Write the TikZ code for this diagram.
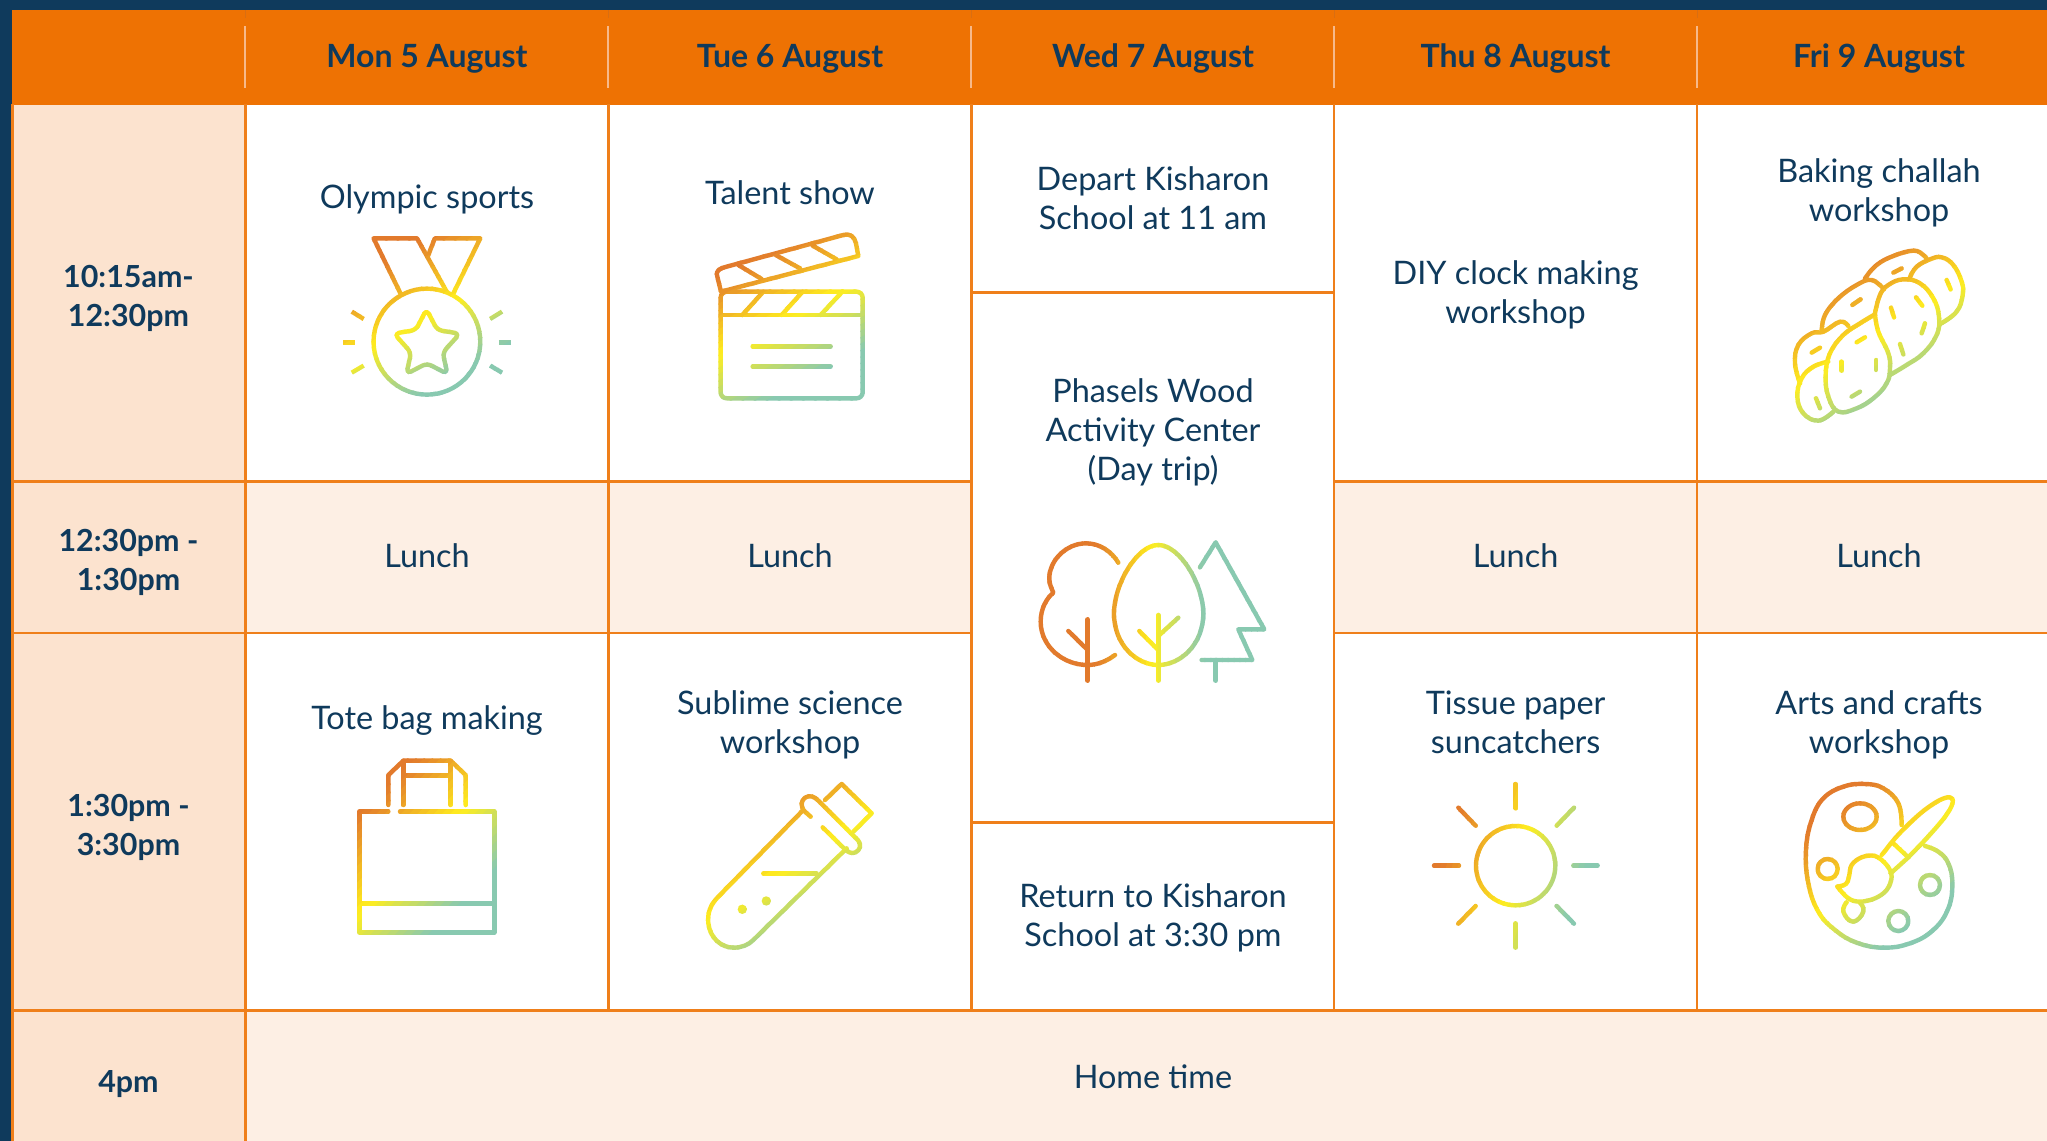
\documentclass[tikz,border=0pt]{standalone}
\usepackage{fontspec}
\setmainfont{Lato}
\definecolor{navy}{HTML}{0F3A5C}
\definecolor{hdr}{HTML}{EE7203}
\definecolor{hdrdark}{HTML}{D96E12}
\definecolor{gridc}{HTML}{EF7F1A}
\definecolor{timec}{HTML}{FCE3CF}
\definecolor{lunchc}{HTML}{FDEFE4}
\definecolor{hline}{HTML}{F7B98A}
\definecolor{ico}{HTML}{E27A2C}
\definecolor{icy}{HTML}{FFEE1E}
\definecolor{ict}{HTML}{88C9B0}
\colorlet{bandc}{ico}
\tikzset{
  iconline/.style={draw=bandc,line width=2.2pt,line cap=round,line join=round},
  iconfill/.style={fill=bandc,draw=none},
  celltext/.style={text=navy,align=center,inner sep=0pt,font=\fontsize{16.2}{19.5}\selectfont},
  headtext/.style={text=navy,align=center,inner sep=0pt,font=\fontsize{16}{19.5}\selectfont\bfseries},
  timetext/.style={text=navy,align=center,inner sep=0pt,font=\fontsize{15.2}{19.5}\selectfont\bfseries},
  gridline/.style={draw=gridc,line width=1.25pt},
  hdrline/.style={draw=hline,line width=1pt},
  hdrtick/.style={draw=hdrdark,line width=.4pt}
}
\newcommand\gradicon[8]{%
  \pgfmathsetmacro\gcx{(#2+#4)/2}%
  \pgfmathsetmacro\gcy{(#3+#5)/2}%
  \pgfmathsetmacro\gca{cos(#6)}%
  \pgfmathsetmacro\gsa{sin(#6)}%
  \pgfmathsetmacro\gL{(#4-#2)*abs(\gca)+(#5-#3)*abs(\gsa)}%
  \pgfmathsetmacro\gM{(#4-#2)+(#5-#3)}%
  \foreach \gk in {1,...,40}{%
    \pgfmathsetmacro\gta{-\gL/2+\gL*(\gk-1)/40-0.5}%
    \pgfmathsetmacro\gtb{-\gL/2+\gL*\gk/40+0.5}%
    \pgfmathsetmacro\gf{(\gk-0.5)/40}%
    \pgfmathsetmacro\gp{100*max(0,min(1,\gf<0.5 ? (\gf-#7)/(0.5-#7) : (\gf-0.5)/(#8-0.5)))}%
    \ifdim\gf pt<0.5pt \colorlet{bandc}{icy!\gp!ico}\else \colorlet{bandc}{ict!\gp!icy}\fi
    \begin{scope}
      \clip ({\gcx+\gta*\gca-\gM*\gsa},{\gcy+\gta*\gsa+\gM*\gca}) --
            ({\gcx+\gtb*\gca-\gM*\gsa},{\gcy+\gtb*\gsa+\gM*\gca}) --
            ({\gcx+\gtb*\gca+\gM*\gsa},{\gcy+\gtb*\gsa-\gM*\gca}) --
            ({\gcx+\gta*\gca+\gM*\gsa},{\gcy+\gta*\gsa-\gM*\gca}) -- cycle;
      #1
    \end{scope}
  }%
}
\newcommand\medalicon{%
\begin{scope}[xscale=.3953,yscale=.3333,iconline]
\draw (1015,885) -- (945,715) -- (1055,715) -- (1130,875);
\draw (1082,770) -- (1100,715) -- (1215,715) -- (1145,885);
\draw (1080,1025) ellipse [x radius=135,y radius=159];
\draw[rounded corners=2.5pt] (1079,928) -- (1106,990) -- (1163,1001) -- (1120,1058) -- (1132,1122) -- (1080,1090) -- (1028,1122) -- (1040,1058) -- (997,1001) -- (1052,990) -- cycle;
\draw[line cap=butt] (868,1027) -- (898,1027);
\draw[line cap=butt] (890,935) -- (920,957);
\draw[line cap=butt] (890,1118) -- (920,1097);
\draw[line cap=butt] (1262,1027) -- (1293,1027);
\draw[line cap=butt] (1240,957) -- (1270,935);
\draw[line cap=butt] (1240,1097) -- (1270,1118);
\end{scope}}
\newcommand\clapicon{%
\begin{scope}[shift={(610,180)},scale=.3333,iconline]
\draw[rounded corners=3pt] (332,335) rectangle (758,655);
\draw (332,405) -- (758,405);
\draw (460,335) -- (397,405);
\draw (578,335) -- (515,405);
\draw (697,335) -- (632,405);
\draw (428,500) -- (662,500);
\draw (428,560) -- (662,560);
\draw (333,335) -- (322,290) .. controls (316,270) and (330,265) .. (350,260) -- (700,165) .. controls (722,160) and (733,170) .. (738,190) -- (745,228) -- cycle;
\draw (385,255) -- (455,297);
\draw (497,225) -- (570,265);
\draw (608,197) -- (680,238);
\end{scope}}
\newcommand\treesicon{%
\begin{scope}[shift={(1000,510)},scale=.3333,iconline]
\draw (355,158) .. controls (335,125) and (300,100) .. (258,100) .. controls (200,100) and (148,150) .. (148,205) .. controls (148,225) and (155,235) .. (160,248) .. controls (140,265) and (122,295) .. (122,335) .. controls (122,410) and (190,465) .. (262,465) .. controls (295,465) and (322,452) .. (345,435);
\draw (263,328) -- (263,512);
\draw (205,363) -- (263,420);
\draw (475,105) .. controls (540,105) and (610,225) .. (610,310) .. controls (610,405) and (540,465) .. (475,465) .. controls (410,465) and (342,405) .. (342,310) .. controls (342,225) and (410,105) .. (475,105) -- cycle;
\draw (475,315) -- (475,512);
\draw (418,363) -- (475,420);
\draw (535,323) -- (475,378);
\draw (600,172) -- (647,97) -- (793,358) -- (715,358) -- (757,450) -- (605,450);
\draw (647,450) -- (647,512);
\end{scope}}
\newcommand\chalicon{%
\begin{scope}[shift={(1760,220)},scale=.3333,iconline]
\draw plot[smooth,tension=.7] coordinates {(185,335) (195,285) (235,235) (290,195) (335,180) (372,208)};
\draw plot[smooth,tension=.7] coordinates {(315,175) (350,135) (400,108) (460,92) (490,105) (502,120)};
\draw plot[smooth,tension=.7] coordinates {(450,172) (470,140) (510,118) (545,112) (580,135) (605,185) (608,225) (590,275) (540,312)};
\draw plot[smooth,tension=.7] coordinates {(345,280) (360,225) (385,195) (430,178) (480,190) (520,235) (537,290) (530,345) (490,400) (440,435) (390,465)};
\draw plot[smooth,tension=.7] coordinates {(345,283) (300,310) (250,345) (210,400) (197,465) (205,530) (235,575) (290,565) (340,535) (380,490) (390,445) (385,400) (355,335) (345,283)};
\draw plot[smooth,tension=.7] coordinates {(120,490) (105,430) (115,375) (155,340) (190,335) (240,305) (265,318)};
\draw plot[smooth,tension=.7] coordinates {(205,425) (160,440) (125,475) (112,530) (130,580) (175,602) (220,575)};
\foreach \a/\b/\c/\d in {400/158/425/145,277/255/302/238,155/398/180/383,290/367/315/352,245/425/245/452,348/420/348/450,275/530/300/515,168/535/180/565,393/263/402/292,468/232/487/257,495/310/485/340,420/372/430/403,560/180/572/208}
  \draw (\a,\b) -- (\c,\d);
\end{scope}}
\newcommand\bagicon{%
\begin{scope}[shift={(330,740)},scale=.3333,iconline]
\draw (175,215) -- (88,215) -- (88,577) -- (493,577) -- (493,215) -- (210,215);
\draw (88,490) -- (493,490);
\draw (175,195) -- (175,105) -- (220,62) -- (362,62) -- (407,105) -- (407,195);
\draw (220,195) -- (220,62);
\draw (362,195) -- (362,62);
\draw (220,107) -- (362,107);
\end{scope}}
\newcommand\tubeicon{%
\begin{scope}[shift={(690,770)},scale=.3333,iconline]
\draw (335,125) -- (85,380) .. controls (60,405) and (52,430) .. (55,460) .. controls (60,505) and (95,533) .. (130,533) .. controls (155,533) and (175,525) .. (190,510) -- (470,235);
\draw (362,140) -- (345,125) .. controls (330,110) and (333,92) .. (345,83) .. controls (358,74) and (375,80) .. (385,92) -- (505,212) .. controls (515,225) and (510,240) .. (497,247) .. controls (485,253) and (472,245) .. (465,238) -- (398,172);
\draw (405,90) -- (455,42) -- (545,130) -- (490,185);
\draw (220,310) -- (380,310);
\fill[iconfill] (157,418) circle (14);
\fill[iconfill] (229,393) circle (14);
\end{scope}}
\newcommand\sunicon{%
\begin{scope}[shift={(1410,770)},scale=.3333,iconline]
\draw (317,287) circle (119);
\draw (317,42) -- (317,115);
\draw (317,460) -- (317,533);
\draw (72,287) -- (147,287);
\draw (490,287) -- (563,287);
\draw (145,113) -- (197,167);
\draw (492,113) -- (440,167);
\draw (145,461) -- (197,408);
\draw (492,461) -- (440,408);
\end{scope}}
\newcommand\palicon{%
\begin{scope}[shift={(1780,770)},scale=.3333,iconline]
\draw plot[smooth,tension=.7] coordinates {(365,165) (355,100) (310,55) (255,42) (190,50) (130,85) (95,150) (78,240) (85,340) (115,425) (165,480) (230,518) (310,533) (390,520) (460,480) (505,415) (517,340) (505,280) (475,245) (435,228)};
\draw (305,255) -- (345,205) .. controls (390,155) and (440,110) .. (480,90) .. controls (505,78) and (522,78) .. (518,98) .. controls (512,125) and (480,160) .. (440,205) -- (385,262) -- (332,310);
\draw (340,220) -- (385,262);
\draw plot[smooth,tension=.6] coordinates {(172,350) (198,342) (207,320) (215,285) (245,262) (285,258) (320,285) (335,320) (320,360) (285,385) (240,395) (205,385) (172,350)};
\draw (240,140) ellipse [x radius=50,y radius=40];
\draw (143,297) circle (30);
\draw (450,345) circle (30);
\draw (355,453) circle (30);
\draw plot[smooth,tension=.8] coordinates {(200,397) (190,425) (219,455) (250,425) (240,398)};
\end{scope}}
\begin{document}
\begin{tikzpicture}[x=.5pt,y=-.5pt]
\useasboundingbox (0,0) rectangle (2047,1141);
% background
\fill[navy] (0,0) rectangle (2047,1141);
\fill[white] (11.5,104) rectangle (2047,1141);
\fill[hdr] (11.5,10) rectangle (2047,105);
% tinted cells
\fill[timec] (13,105) rectangle (245.4,1141);
\fill[lunchc] (245.4,481.7) rectangle (971.3,633);
\fill[lunchc] (1334.2,481.7) rectangle (2047,633);
\fill[lunchc] (245.4,1010.5) rectangle (2047,1141);
% header separators
\foreach \x in {245.4,608.4,971.3,1334.2,1697.2} {\draw[hdrline] (\x,26) -- (\x,88); \draw[hdrtick] (\x,10) -- (\x,18);}
% grid
\foreach \x in {245.4,608.4,971.3,1334.2,1697.2} \draw[gridline] (\x,104) -- (\x,1010.5);
\draw[gridline] (245.4,1010.5) -- (245.4,1141);
\draw[gridline] (12.3,104) -- (12.3,1141);
\draw[gridline] (13,481.7) -- (971.3,481.7);
\draw[gridline] (13,633) -- (971.3,633);
\draw[gridline] (1334.2,481.7) -- (2047,481.7);
\draw[gridline] (1334.2,633) -- (2047,633);
\draw[gridline] (971.3,292.5) -- (1334.2,292.5);
\draw[gridline] (971.3,822.5) -- (1334.2,822.5);
\draw[gridline] (13,1010.5) -- (2047,1010.5);
% header text
\node[headtext] (h1) at (427,60) {\strut Mon 5 August};
\node[headtext] (h2) at (790,60) {\strut Tue 6 August};
\node[headtext] (h3) at (1153,60) {\strut Wed 7 August};
\node[headtext] (h4) at (1515.6,60) {\strut Thu 8 August};
\node[headtext] (h5) at (1879,60) {\strut Fri 9 August};
% times
\node[timetext] (t1) at (128.5,299) {\strut 10:15am-\\\strut 12:30pm};
\node[timetext] (t2) at (128.5,563.4) {\strut 12:30pm -\\\strut 1:30pm};
\node[timetext] (t3) at (128.5,828) {\strut 1:30pm -\\\strut 3:30pm};
\node[timetext] (t4) at (128.5,1085) {\strut 4pm};
% cells
\node[celltext] (c1) at (427,201) {\strut Olympic sports};
\node[celltext] (c2) at (790,197) {\strut Talent show};
\node[celltext] (c3) at (1153,202) {\strut Depart Kisharon\\\strut School at 11 am};
\node[celltext] (c4) at (1515.6,296) {\strut DIY clock making\\\strut workshop};
\node[celltext] (c5) at (1879,194.6) {\strut Baking challah\\\strut workshop};
\node[celltext] (c6) at (1153,434) {\strut Phasels Wood\\\strut Activity Center\\\strut (Day trip)};
\node[celltext] (l1) at (427,560) {\strut Lunch};
\node[celltext] (l2) at (790,560) {\strut Lunch};
\node[celltext] (l4) at (1515.6,560) {\strut Lunch};
\node[celltext] (l5) at (1879,560) {\strut Lunch};
\node[celltext] (d1) at (427,722) {\strut Tote bag making};
\node[celltext] (d2) at (790,726) {\strut Sublime science\\\strut workshop};
\node[celltext] (d3) at (1153,919) {\strut Return to Kisharon\\\strut School at 3:30 pm};
\node[celltext] (d4) at (1515.6,726) {\strut Tissue paper\\\strut suncatchers};
\node[celltext] (d5) at (1879,726) {\strut Arts and crafts\\\strut workshop};
\node[celltext] (home) at (1153,1081) {\strut Home time};
% icons
\gradicon{\medalicon}{340}{234}{514}{399}{60}{0.2}{0.78}
\gradicon{\clapicon}{713}{230}{869}{404}{62}{0.2}{0.78}
\gradicon{\treesicon}{1036}{538}{1269}{686}{0}{0.26}{0.72}
\gradicon{\chalicon}{1790}{247}{1967}{425}{58}{0.2}{0.78}
\gradicon{\bagicon}{354}{755}{499}{938}{45}{0.2}{0.78}
\gradicon{\tubeicon}{704}{780}{876}{952}{57}{0.2}{0.78}
\gradicon{\sunicon}{1429}{779}{1603}{953}{18}{0.18}{0.8}
\gradicon{\palicon}{1800}{779}{1958}{953}{51}{0.2}{0.78}
\end{tikzpicture}
\end{document}
